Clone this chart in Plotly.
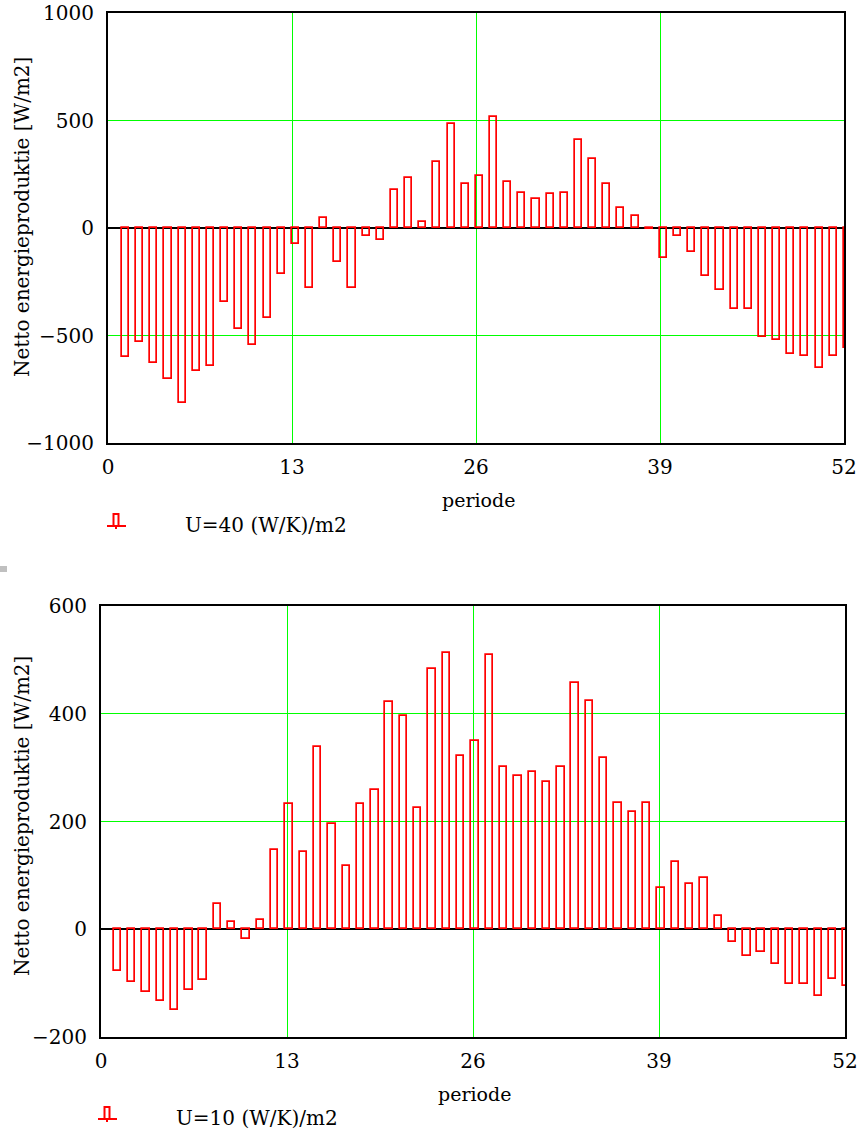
import plotly.graph_objects as go

periode = list(range(1, 53))
netto_u40 = [-602, -528, -628, -704, -815, -667, -640, -344, -471, -545, -418, -213, -74,
             -281, 48, -160, -281, -37, -58, 176, 231, 26, 305, 483, 205, 240,
             514, 213, 165, 137, 156, 165, 408, 322, 205, 91, 54, -4, -141,
             -36, -110, -224, -289, -378, -378, -509, -519, -585, -593, -650, -593, -557]
netto_u10 = [-78, -97, -117, -134, -150, -112, -94, 47, 14, -19, 17, 147, 232,
             144, 339, 195, 117, 232, 258, 421, 395, 225, 483, 513, 321, 350,
             509, 302, 284, 291, 273, 302, 457, 424, 317, 235, 217, 235, 77,
             125, 84, 96, 25, -23, -49, -42, -65, -101, -101, -124, -93, -106]
x_ticks = [0, 13, 26, 39, 52]
y_ticks_top = [-1000, -500, 0, 500, 1000]
y_ticks_bot = [-200, 0, 200, 400, 600]
label_top = "U=40 (W/K)/m2"
label_bot = "U=10 (W/K)/m2"
y_title = "Netto energieproduktie [W/m2]"
x_title = "periode"

W, H = 863, 1133
FONT = "DejaVu Serif"
RED = "#ff0000"
GREEN = "#00ff00"

def px(x):
    return x / W

def py(y):
    return 1 - y / H

fig = go.Figure()
fig.add_trace(go.Bar(x=periode, y=netto_u40, width=0.5, offset=-0.01,
                     marker=dict(color="rgba(255,255,255,0)", line=dict(color=RED, width=1.7)),
                     xaxis="x", yaxis="y", showlegend=False, name=label_top))
fig.add_trace(go.Bar(x=periode, y=netto_u10, width=0.52, offset=-0.12,
                     marker=dict(color="rgba(255,255,255,0)", line=dict(color=RED, width=1.7)),
                     xaxis="x2", yaxis="y2", showlegend=False, name=label_bot))

axis_common = dict(showline=True, mirror=True, linecolor="black", linewidth=2,
                   showgrid=True, gridcolor=GREEN, gridwidth=1.2, ticks="",
                   tickfont=dict(family=FONT, size=20, color="black"),
                   zeroline=True, zerolinecolor="black", zerolinewidth=2,
                   automargin=False)

fig.update_layout(
    template="none",
    width=W, height=H, margin=dict(l=0, r=0, t=0, b=0, pad=0, autoexpand=False),
    paper_bgcolor="white", plot_bgcolor="white", bargap=0,
    font=dict(family=FONT, color="black"),
    xaxis=dict(axis_common, domain=[px(108), px(844)], range=[0, 52], tickvals=x_ticks,
               anchor="y", ticklabelstandoff=5),
    yaxis=dict(axis_common, domain=[py(443), py(13)], range=[-1000, 1000], tickvals=y_ticks_top,
               anchor="x", ticklabelstandoff=8),
    xaxis2=dict(axis_common, domain=[px(101), px(845)], range=[0, 52], tickvals=x_ticks,
                anchor="y2", ticklabelstandoff=5),
    yaxis2=dict(axis_common, domain=[py(1037), py(606)], range=[-200, 600], tickvals=y_ticks_bot,
                anchor="x2", ticklabelstandoff=8),
)

ann = []
shapes = []
# axis titles
for yc in (217, 816):
    ann.append(dict(text=y_title, x=px(22), y=py(yc), xref="paper", yref="paper",
                    showarrow=False, textangle=-90, xanchor="center", yanchor="middle",
                    font=dict(family=FONT, size=20, color="black")))
for xc, yc in ((478, 500), (475, 1094)):
    ann.append(dict(text=x_title, x=px(xc), y=py(yc), xref="paper", yref="paper",
                    showarrow=False, xanchor="center", yanchor="middle",
                    font=dict(family=FONT, size=19, color="black")))
# legends
for label, x0, yc in ((label_top, 107, 525), (label_bot, 98, 1118)):
    ann.append(dict(text=label, x=px(x0 + 76), y=py(yc), xref="paper", yref="paper",
                    showarrow=False, xanchor="left", yanchor="middle",
                    font=dict(family=FONT, size=20, color="black")))
    base = yc + 1
    shapes.append(dict(type="rect", xref="paper", yref="paper",
                       x0=px(x0 + 6.5), x1=px(x0 + 11.5), y0=py(base), y1=py(base - 12),
                       line=dict(color=RED, width=2)))
    shapes.append(dict(type="line", xref="paper", yref="paper",
                       x0=px(x0), x1=px(x0 + 19), y0=py(base), y1=py(base),
                       line=dict(color=RED, width=2)))
    shapes.append(dict(type="line", xref="paper", yref="paper",
                       x0=px(x0 + 9), x1=px(x0 + 9), y0=py(base), y1=py(base + 3),
                       line=dict(color=RED, width=2)))
# small grey mark at the left edge
shapes.append(dict(type="rect", xref="paper", yref="paper",
                   x0=px(0), x1=px(7), y0=py(572), y1=py(566),
                   line=dict(width=0), fillcolor="#c0c0c0"))

fig.update_layout(annotations=ann, shapes=shapes)
fig.write_html("out.html")
